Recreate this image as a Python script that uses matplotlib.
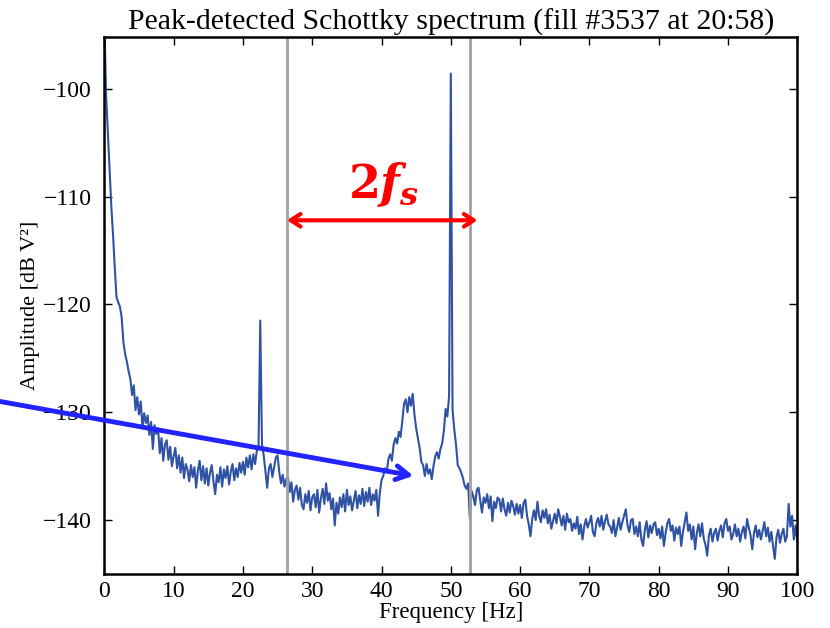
import numpy as np
import matplotlib
matplotlib.use("Agg")
import matplotlib.pyplot as plt

plt.rcParams['font.family'] = ['Liberation Serif', 'DejaVu Serif']
plt.rcParams['mathtext.fontset'] = 'custom'
plt.rcParams['mathtext.rm'] = 'DejaVu Serif:bold'
plt.rcParams['mathtext.it'] = 'DejaVu Serif:bold:italic'

title = 'Peak-detected Schottky spectrum (fill #3537 at 20:58)'

# spectrum, one value every 0.25 Hz
step = 0.25
amp = [
    # 0 - 4.75 Hz
    -93.5, -100.5, -104.0, -107.5, -110.8, -113.5, -116.5, -119.3, -119.8, -120.2,
    -121.2, -123.5, -124.6, -125.3, -126.2, -126.9, -128.4, -127.5, -129.8, -128.6,
    # 5 - 9.75
    -130.2, -129.0, -131.4, -130.1, -131.0, -130.3, -132.1, -130.9, -133.4, -131.2,
    -132.0, -131.5, -133.8, -132.4, -134.5, -133.0, -132.6, -134.4, -133.2, -135.0,
    # 10 - 14.75
    -134.1, -133.3, -135.2, -134.0, -135.6, -134.2, -136.1, -134.8, -135.3, -136.4,
    -134.9, -136.0, -135.1, -137.0, -135.4, -134.5, -136.3, -135.0, -136.6, -135.2,
    # 15 - 19.75
    -136.8, -135.6, -134.9, -136.4, -137.6, -135.8, -136.5, -135.1, -136.9, -135.3,
    -136.1, -135.0, -136.7, -135.5, -134.8, -136.3, -135.2, -136.0, -134.7, -135.6,
    # 20 - 24.75
    -134.6, -135.8, -134.2, -135.1, -134.0, -135.3, -133.9, -134.8, -133.6, -133.2,
    -121.5, -133.0, -134.0, -135.5, -137.0, -135.2, -134.8, -136.0, -135.1, -134.2,
    # 25 - 29.75
    -134.0, -135.6, -136.6, -135.8, -136.9, -136.2, -136.0, -137.4, -136.5, -138.3,
    -137.2, -136.8, -138.1, -137.0, -138.6, -139.0, -137.6, -138.4, -137.3, -139.1,
    # 30 - 34.75
    -137.9, -137.6, -138.8, -137.2, -139.3, -138.0, -137.1, -138.5, -136.6, -138.2,
    -137.5, -139.0, -138.0, -140.5, -138.4, -139.4, -137.9, -138.8, -137.6, -139.2,
    # 35 - 39.75
    -137.2, -138.6, -137.8, -139.1, -138.2, -137.3, -138.9, -137.7, -138.5, -137.1,
    -138.7, -137.4, -138.3, -137.0, -138.6, -137.6, -138.2, -137.2, -139.6, -137.5,
    # 40 - 44.75
    -136.3, -135.9, -135.2, -135.6, -134.3, -133.9, -134.5, -133.0, -132.4, -132.9,
    -131.8, -132.3, -130.8, -129.2, -128.8, -130.0, -128.6, -129.4, -128.3, -130.2,
    # 45 - 49.75
    -131.5, -132.4, -133.3, -134.6, -134.9, -135.9, -134.8, -135.7, -135.3, -136.2,
    -135.0, -134.1, -133.7, -134.3, -133.4, -132.9, -131.7, -129.7, -130.4, -128.5,
    # 50 - 54.75
    -98.6, -129.8, -131.6, -133.0, -134.9, -135.2, -135.6, -136.1, -136.8, -137.1,
    -136.6, -139.9, -137.3, -137.8, -138.6, -137.2, -137.0, -138.2, -139.3, -137.9,
    # 55 - 59.75
    -138.4, -137.6, -138.9, -137.8, -140.1, -138.3, -138.9, -137.9, -138.1, -139.2,
    -138.0, -139.0, -139.6, -138.4, -139.3, -138.2, -138.7, -139.5, -138.5, -139.4,
    # 60 - 64.75
    -138.6, -139.8, -138.4, -138.1, -139.6, -140.4, -141.5, -139.9, -139.1, -140.0,
    -138.3, -139.6, -140.2, -139.1, -139.8, -139.0, -140.3, -139.5, -140.8, -140.1,
    # 65 - 69.75
    -139.4, -140.3, -139.0, -139.7, -140.5, -139.6, -140.9, -139.4, -140.2, -139.9,
    -141.0, -140.3, -140.8, -139.7, -141.3, -140.4, -141.8, -140.6, -139.9, -140.7,
    # 70 - 74.75
    -140.2, -139.6, -141.1, -141.5, -140.3, -139.8, -140.6, -139.6, -140.9, -140.1,
    -139.5, -140.4, -140.6, -141.2, -140.0, -141.5, -140.7, -139.8, -140.9, -140.2,
    # 75 - 79.75
    -139.6, -139.0, -140.5, -141.1, -140.0, -139.9, -141.3, -140.6, -141.5, -140.2,
    -141.8, -142.4, -140.9, -140.1, -141.6, -140.5, -141.2, -140.4, -140.2, -141.4,
    # 80 - 84.75
    -140.8, -141.7, -140.6, -142.4, -141.2, -140.3, -139.9, -141.0, -140.5, -141.9,
    -140.7, -141.3, -140.6, -142.4, -141.1, -140.2, -139.3, -141.0, -140.4, -141.8,
    # 85 - 89.75
    -140.6, -142.7, -141.2, -140.4, -141.5, -140.3, -141.7, -142.3, -143.3, -141.4,
    -140.8, -142.0, -141.2, -140.8, -141.9, -141.0, -140.5, -141.6, -140.3, -139.9,
    # 90 - 94.75
    -141.0, -140.6, -141.8, -141.3, -140.4, -141.5, -140.8, -142.0, -141.1, -140.6,
    -141.7, -139.9, -140.7, -141.4, -142.7, -141.2, -140.5, -141.6, -140.9, -141.8,
    # 95 - 100
    -141.0, -140.2, -141.5, -140.7, -142.0, -141.1, -142.4, -143.6, -141.6, -140.9,
    -142.1, -141.3, -140.8, -142.0, -141.5, -138.5, -140.6, -139.6, -141.8, -140.5,
    -142.0,
]
freq = np.arange(len(amp)) * step

# synchrotron sidebands (grey lines) and the arrows drawn on top
band_lines = [26.35, 52.7]
span_arrow = (26.35, 53.85, -112.2)
span_label = (40.3, -108.9)
pointer_start = (-15.05, -129.0)
pointer_end = (44.6, -135.9)

fig = plt.figure(figsize=(8.3, 6.28), dpi=100)
ax = fig.add_axes([0.1257, 0.086, 0.8349, 0.8551])

ax.plot(freq, amp, color='#2f52a4', lw=1.5)
for f in band_lines:
    ax.axvline(f, color='#a0a0a0', lw=2)

ax.set_xlim(0, 100)
ax.set_ylim(-145, -95.2)
ax.set_xticks(np.arange(0, 101, 10))
ax.set_yticks([-140, -130, -120, -110, -100])
ax.tick_params(direction='in', top=True, right=True, length=6, width=1,
               labelsize=17)
ax.tick_params(axis='x', pad=5)
ax.tick_params(axis='y', pad=9)
for s in ax.spines.values():
    s.set_linewidth(1.8)

ax.set_title(title, fontsize=21.5, pad=5)
ax.set_xlabel('Frequency [Hz]', fontsize=16.5, labelpad=0)
ax.set_ylabel('Amplitude [dB V²]', fontsize=16, labelpad=2)

x0, x1, ya = span_arrow
ax.annotate('', xy=(x0, ya), xytext=(x1, ya),
            arrowprops=dict(arrowstyle='<->,head_length=0.7,head_width=0.45',
                            color='#ff0000', lw=3, shrinkA=0, shrinkB=0))
ax.text(span_label[0], span_label[1], r'$2f_s$', color='#ff0000',
        fontsize=33, ha='center', va='center')

ax.annotate('', xy=pointer_end, xytext=pointer_start, annotation_clip=False,
            arrowprops=dict(arrowstyle='->,head_length=0.9,head_width=0.5',
                            color='#2323ff', lw=3.5, shrinkA=0, shrinkB=0))

fig.savefig('out.png', dpi=100)
